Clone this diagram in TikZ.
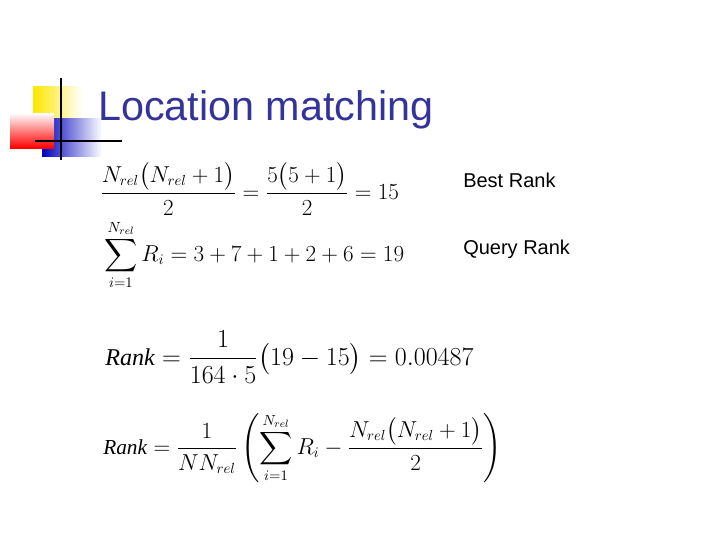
\documentclass[tikz,border=0pt]{standalone}
\usepackage{amsmath}
\usepackage{fontspec}
\setmainfont{Liberation Sans}
\newfontfamily\timesf{Liberation Serif}
\begin{document}
\begin{tikzpicture}[x=0.75pt,y=-0.75pt,
  eq/.style={anchor=west,inner sep=0pt,font=\fontsize{16}{18}\selectfont},
  lab/.style={anchor=west,inner sep=0pt,font=\fontsize{15}{18}\selectfont}]
\useasboundingbox (0,0) rectangle (720,540);
\fill[white] (0,0) rectangle (720,540);
\shade[left color=yellow!80!orange, right color=white] (33,86) rectangle (82,118);
\shade[left color=blue!75!black, right color=white] (42,118) rectangle (102,156);
\shade[right color=red, left color=white, shading angle=0] (10,113) rectangle (54,148);
\draw[line width=2.2pt] (61,78) -- (61,160);
\draw[line width=2.2pt] (35,141) -- (122,141);
\node[anchor=base west,inner sep=0pt,text={rgb,255:red,51;green,51;blue,153},font=\fontsize{31}{34}\selectfont] (title) at (98,120) {Location matching};
\node[eq] (e1) at (100,189) {$\dfrac{N_{rel}\bigl(N_{rel}+1\bigr)}{2}=\dfrac{5\bigl(5+1\bigr)}{2}=15$};
\node[eq] (e2) at (104,255) {$\displaystyle\sum_{i=1}^{N_{rel}} R_i=3+7+1+2+6=19$};
\node[lab] (l1) at (463,180) {Best Rank};
\node[lab] (l2) at (463,249) {Query Rank};
\node[eq,scale=1.13] (e3) at (105,357) {$\text{\timesf\itshape Rank}=\dfrac{1}{164\cdot 5}\bigl(19-15\bigr)=0.00487$};
\node[eq] (e4) at (103,448) {$\text{\timesf\itshape Rank}=\dfrac{1}{NN_{rel}}\left(\displaystyle\sum_{i=1}^{N_{rel}} R_i-\dfrac{N_{rel}\bigl(N_{rel}+1\bigr)}{2}\right)$};
\end{tikzpicture}
\end{document}
